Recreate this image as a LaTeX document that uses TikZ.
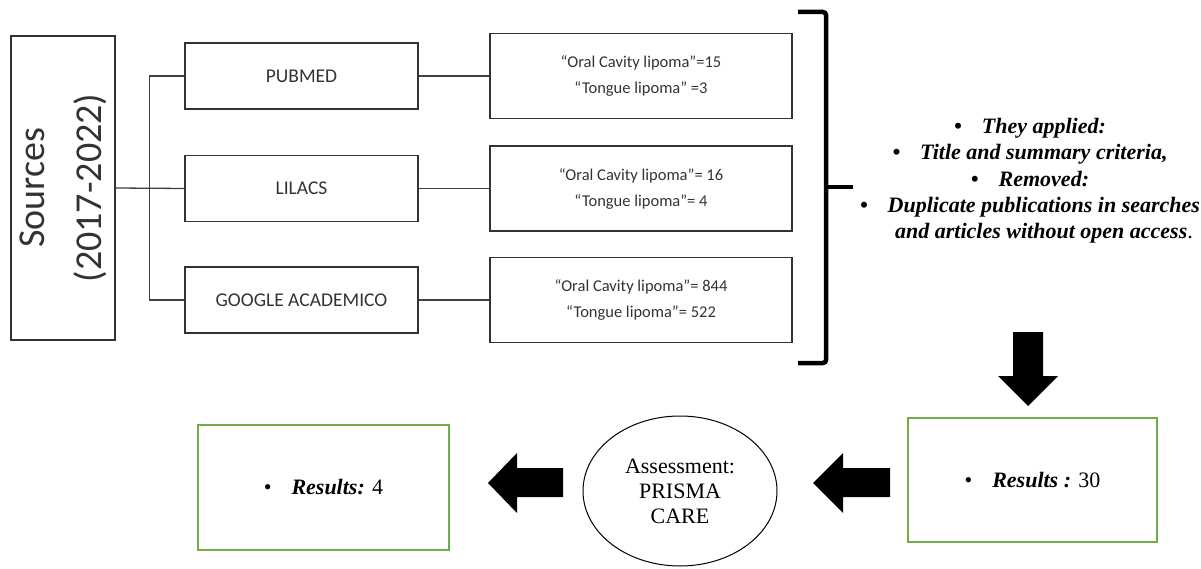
\documentclass[tikz,border=0pt]{standalone}
\usepackage{fontspec}
\setmainfont{Liberation Serif}
\newfontfamily\carlito{Carlito}
\usetikzlibrary{shapes.geometric}
\definecolor{resgreen}{RGB}{112,173,71}

\begin{document}
\begin{tikzpicture}[x=1pt,y=-1pt,
  box/.style={draw=black!80, line width=1.2pt, rectangle, inner sep=0pt},
  dbbox/.style={box, minimum width=233, minimum height=66, text=black!80, font=\carlito\fontsize{19.5}{22}\selectfont},
  cntbox/.style={box, minimum width=302, minimum height=85, align=center, text=black!80, font=\carlito\fontsize{16.5}{26}\selectfont},
  resbox/.style={draw=resgreen, line width=1.2pt, rectangle, inner sep=0pt, font=\fontsize{22}{26}\selectfont},
  link/.style={draw=black!75, line width=1.3pt}]
\useasboundingbox (0,0) rectangle (1201,569);

\node[box, rotate=90, minimum width=304, minimum height=104, align=center, text=black!80, font=\carlito\fontsize{38}{57}\selectfont] (SRC) at (63,188) {Sources\\(2017-2022)};
\node[dbbox] (PUBMED) at (301.5,76) {PUBMED};
\node[dbbox] (LILACS) at (301.5,188.5) {LILACS};
\node[dbbox] (GOOGLE) at (301.5,300) {GOOGLE ACADEMICO};
\node[cntbox] (PUBCNT) at (641,76) {“Oral Cavity lipoma”=15\\“Tongue lipoma” =3};
\node[cntbox] (LILCNT) at (641,188.5) {“Oral Cavity lipoma”= 16\\“Tongue lipoma”= 4};
\node[cntbox] (GOOCNT) at (641,300) {“Oral Cavity lipoma”= 844\\“Tongue lipoma”= 522};

\draw[link] (SRC.south) -- (LILACS.west);
\draw[link] (PUBMED.west) -- ++(-35,0) |- (GOOGLE.west);
\draw[link] (PUBMED) -- (PUBCNT);
\draw[link] (LILACS) -- (LILCNT);
\draw[link] (GOOGLE) -- (GOOCNT);

% brace
\draw[line width=4.5pt, rounded corners=3pt] (798,12) -- (826,12) -- (826,363) -- (798,363);
\draw[line width=4.5pt] (826,187) -- (853,187);

\node[align=center, font=\bfseries\itshape\fontsize{22}{26.3}\selectfont] (NOTES) at (1030,181)
  {\textbullet\hspace{20pt}They applied:\\
   \textbullet\hspace{20pt}Title and summary criteria,\\
   \textbullet\hspace{20pt}Removed:\\
   \textbullet\hspace{20pt}Duplicate publications in searches\\
   \hspace*{28pt}and articles without open access\textmd{\textup{.}}};

\node[resbox, minimum width=249, minimum height=124] (RES30) at (1032.5,480) {\textbullet\hspace{20pt}\textbf{\textit{Results :}} 30};
\node[draw, ellipse, line width=1pt, minimum width=194, minimum height=150, inner sep=0pt, align=center, font=\fontsize{22}{25}\selectfont] (ASSESS) at (680,491) {Assessment:\\PRISMA\\CARE};
\node[resbox, minimum width=251, minimum height=125] (RES4) at (323.5,487.5) {\textbullet\hspace{20pt}\textbf{\textit{Results:}} 4};

% block arrows
\fill (1013,332) -- (1043,332) -- (1043,376) -- (1058,376) -- (1028,406) -- (998,376) -- (1013,376) -- cycle;
\fill (890,468) -- (843,468) -- (843,453) -- (813,483) -- (843,513) -- (843,497) -- (890,497) -- cycle;
\fill (563,468) -- (517,468) -- (517,453) -- (488,483) -- (517,513) -- (517,497) -- (563,497) -- cycle;
\end{tikzpicture}
\end{document}
